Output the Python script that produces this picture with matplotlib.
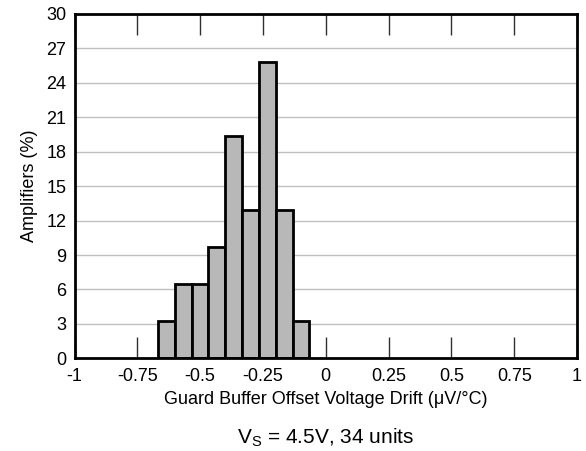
import matplotlib
matplotlib.use("Agg")
import matplotlib.pyplot as plt
import numpy as np

plt.rcParams['font.family'] = ['Liberation Sans', 'DejaVu Sans']

# Data
bin_left = [-0.668, -0.601, -0.534, -0.467, -0.400, -0.333, -0.266, -0.199, -0.132]
bin_width = 0.067
percent = [3.23, 6.45, 6.45, 9.68, 19.35, 12.90, 25.81, 12.90, 3.23]
xticks = [-1, -0.75, -0.5, -0.25, 0, 0.25, 0.5, 0.75, 1]
xtick_labels = ['-1', '-0.75', '-0.5', '-0.25', '0', '0.25', '0.5', '0.75', '1']
yticks = list(range(0, 31, 3))

fig = plt.figure(figsize=(5.86, 4.51), dpi=100)
ax = fig.add_axes([74.5/586, 1-358.3/451, 502.5/586, (358.3-14)/451])

ax.bar(bin_left, percent, width=bin_width, align='edge', color='#b8b8b8',
       edgecolor='black', linewidth=2, zorder=3)

ax.set_xlim(-1, 1)
ax.set_ylim(0, 30)
ax.set_yticks(yticks)
ax.set_xticks(xticks)
ax.set_xticklabels(xtick_labels)
ax.yaxis.grid(True, color='#c0c0c0', linewidth=1, zorder=0)
ax.set_axisbelow(True)

ax.tick_params(axis='x', direction='in', length=15, width=1, color='#303030',
               top=True, bottom=True, labelsize=13, pad=7, labelcolor='black')
ax.tick_params(axis='y', length=0, labelsize=13, pad=6)

for s in ax.spines.values():
    s.set_linewidth(2)
    s.set_color('black')
    s.set_zorder(5)

ax.set_ylabel('Amplifiers (%)', fontsize=13, labelpad=6)
ax.set_xlabel('Guard Buffer Offset Voltage Drift (\u03bcV/\u00b0C)', fontsize=13, labelpad=4)

fig.text(325.8/586, 1-438/451, r'V$_\mathregular{S}$ = 4.5V, 34 units', ha='center', va='center', fontsize=15)

fig.savefig('out.png', dpi=100)
